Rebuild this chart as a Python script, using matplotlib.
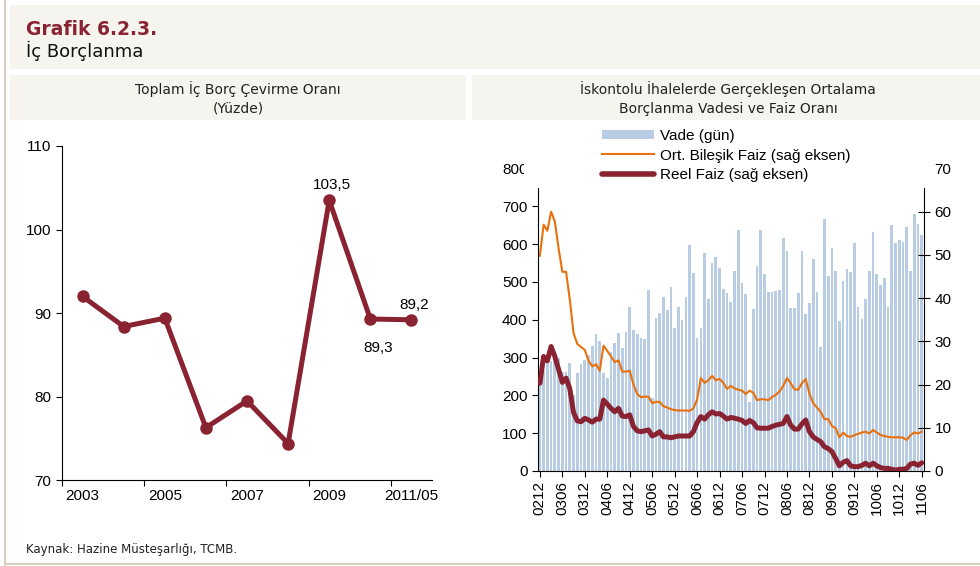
import matplotlib.pyplot as plt
from matplotlib.patches import Rectangle, Patch
from matplotlib.lines import Line2D
import numpy as np

# left chart: total domestic debt rollover ratio (%)
years = ['2003', '2004', '2005', '2006', '2007', '2008', '2009', '2010', '2011/05']
ratio = [92.0, 88.4, 89.4, 76.3, 79.5, 74.4, 103.5, 89.3, 89.2]
ratio_labels = {6: '103,5', 7: '89,3', 8: '89,2'}

# right chart: monthly, 2002/12 .. 2011/06
months = ['0212', '0306', '0312', '0406', '0412', '0506', '0512', '0606', '0612',
          '0706', '0712', '0806', '0812', '0906', '0912', '1006', '1012', '1106']
vade = [250, 265, 300, 290, 300, 298, 262, 262, 285, 200,
        258, 282, 293, 307, 330, 363, 344, 260, 247, 315,
        339, 366, 326, 368, 434, 374, 362, 352, 348, 479,
        194, 404, 417, 459, 426, 486, 377, 434, 399, 461,
        597, 524, 351, 377, 576, 455, 551, 567, 536, 481,
        472, 446, 528, 638, 498, 467, 183, 428, 542, 638,
        521, 474, 474, 477, 479, 616, 582, 430, 430, 470,
        582, 414, 445, 560, 474, 329, 667, 516, 590, 530,
        397, 503, 534, 525, 602, 433, 402, 455, 529, 631,
        520, 493, 510, 433, 651, 602, 611, 606, 645, 529,
        679, 652, 623]
bilesik = [49.8, 57.0, 55.6, 60.0, 57.7, 51.5, 46.1, 46.1, 39.6, 31.9,
           29.4, 28.7, 28.0, 25.5, 24.2, 24.7, 23.2, 29.0, 27.8, 26.5,
           25.2, 25.6, 23.0, 23.0, 23.2, 20.0, 17.8, 17.1, 17.2, 17.2,
           15.7, 16.0, 16.0, 15.0, 14.7, 14.3, 14.1, 14.0, 14.0, 14.0,
           13.9, 14.5, 16.5, 21.5, 20.4, 21.0, 22.0, 21.0, 21.3, 20.4,
           19.0, 19.7, 19.1, 18.8, 18.6, 17.8, 18.6, 18.1, 16.4, 16.6,
           16.6, 16.4, 17.1, 17.6, 18.4, 19.7, 21.5, 20.3, 18.9, 18.8,
           20.3, 21.3, 17.9, 15.7, 14.7, 13.7, 12.0, 12.0, 10.4, 9.9,
           7.8, 8.9, 8.1, 7.9, 8.3, 8.6, 8.9, 9.1, 8.7, 9.5,
           8.9, 8.3, 8.1, 7.9, 7.8, 7.8, 7.8, 7.7, 7.2, 8.3,
           8.9, 8.7, 9.1]
reel = [20.3, 26.5, 25.5, 28.8, 26.5, 23.5, 20.5, 21.5, 19.0, 13.5,
        11.6, 11.4, 12.2, 11.8, 11.3, 12.0, 12.0, 16.4, 15.5, 14.5,
        13.7, 14.5, 12.7, 12.6, 13.0, 10.3, 9.3, 9.1, 9.3, 9.5,
        8.1, 8.5, 9.1, 7.9, 7.9, 7.7, 7.9, 8.1, 8.1, 8.1,
        8.1, 9.1, 11.2, 12.6, 12.0, 13.0, 13.7, 13.2, 13.3, 12.7,
        12.0, 12.4, 12.2, 12.0, 11.7, 11.0, 11.7, 11.2, 10.0, 9.9,
        9.9, 9.9, 10.3, 10.6, 10.8, 11.0, 12.6, 10.6, 9.7, 9.7,
        10.9, 11.8, 9.1, 7.9, 7.3, 6.8, 5.6, 5.2, 4.5, 2.9,
        1.2, 2.0, 2.4, 1.2, 1.0, 1.0, 1.3, 1.8, 1.2, 1.8,
        1.2, 0.8, 0.6, 0.6, 0.4, 0.2, 0.4, 0.4, 0.6, 1.6,
        1.8, 1.3, 1.9]

W, H = 980, 566
RED = '#8a2331'
ORANGE = '#e8700d'
BLUE = '#b8cce4'
PANEL = '#f6f4ef'
BORDER = '#d8cfc0'
TICKFONT = 'Liberation Sans'


def px(x0, y0, x1, y1):
    # pixel box (top-left origin) -> figure fraction [l, b, w, h]
    return [x0 / W, 1 - y1 / H, (x1 - x0) / W, (y1 - y0) / H]


fig = plt.figure(figsize=(W / 100, H / 100), dpi=100)
fig.patch.set_facecolor('white')

# panels and frame
for (x0, y0, x1, y1) in [(10, 5, 980, 69), (10, 75, 466, 120), (472, 75, 980, 120)]:
    l, b, w, h = px(x0, y0, x1, y1)
    fig.patches.append(Rectangle((l, b), w, h, transform=fig.transFigure,
                                 facecolor=PANEL, edgecolor='none', zorder=-5))
fig.add_artist(Line2D([4.5 / W, 4.5 / W], [0, 1], color=BORDER, lw=1.5))
fig.add_artist(Line2D([4.5 / W, 1], [1 - 563.5 / H] * 2, color=BORDER, lw=1.5))

fig.text(26 / W, 1 - 35 / H, 'Grafik 6.2.3.', fontsize=13.5, fontweight='bold',
         color=RED, va='baseline')
fig.text(26 / W, 1 - 57 / H, 'İç Borçlanma', fontsize=13, va='baseline', color='#111111')
fig.text(238 / W, 1 - 94 / H, 'Toplam İç Borç Çevirme Oranı', fontsize=10,
         ha='center', va='baseline', color='#222222')
fig.text(238 / W, 1 - 113 / H, '(Yüzde)', fontsize=10, ha='center',
         va='baseline', color='#222222')
fig.text(728 / W, 1 - 94 / H, 'İskontolu İhalelerde Gerçekleşen Ortalama',
         fontsize=10, ha='center', va='baseline', color='#222222')
fig.text(728 / W, 1 - 113 / H, 'Borçlanma Vadesi ve Faiz Oranı', fontsize=10,
         ha='center', va='baseline', color='#222222')
fig.text(26 / W, 1 - 553 / H, 'Kaynak: Hazine Müsteşarlığı, TCMB.', fontsize=8.5,
         va='baseline', color='#222222')

# ---- left chart
ax1 = fig.add_axes(px(62, 146, 432, 480.3))
x = np.arange(len(years))
ax1.plot(x, ratio, color=RED, lw=3.6, marker='o', ms=8, zorder=3)
for i, txt in ratio_labels.items():
    if i == 7:
        ax1.annotate(txt, (x[i], ratio[i]), xytext=(6, -16), textcoords='offset points',
                     ha='center', va='top', fontsize=11, family=TICKFONT)
    else:
        ax1.annotate(txt, (x[i], ratio[i]), xytext=(2, 6), textcoords='offset points',
                     ha='center', va='bottom', fontsize=11, family=TICKFONT)
ax1.set_xlim(-0.5, len(years) - 0.5)
ax1.set_ylim(70, 110)
ax1.set_yticks(np.arange(70, 111, 10))
ax1.set_xticks(np.arange(-0.5, len(years) - 1, 2), [''] * 5)
ax1.set_xticks(x[::2], [years[i] for i in x[::2]], minor=True)
ax1.tick_params(axis='x', which='minor', length=0, pad=6)
ax1.tick_params(axis='both', which='major', length=4, width=0.8)
for sp in ['top', 'right']:
    ax1.spines[sp].set_visible(False)
for lab in ax1.get_yticklabels() + ax1.get_xticklabels(minor=True):
    lab.set_fontsize(11)
    lab.set_family(TICKFONT)

# ---- right chart
ax2 = fig.add_axes(px(538, 168.5, 924, 471))
n = len(vade)
t = np.arange(n)
ax2.bar(t, vade, width=0.72, color=BLUE, zorder=1)
ax2.set_ylim(0, 800)
ax2.set_yticks(np.arange(0, 801, 100))
ax2.set_xlim(-0.5, n - 0.4)
ax2.set_xticks(t[::6], months, rotation=90)
ax2.spines['top'].set_visible(False)
ax2.spines['right'].set_visible(False)
ax2.tick_params(axis='both', length=4, width=0.8)

ax3 = ax2.twinx()
ax3.plot(t, bilesik, color=ORANGE, lw=1.5, zorder=3)
ax3.plot(t, reel, color=RED, lw=3.6, zorder=4, solid_capstyle='round')
ax3.set_ylim(0, 70)
ax3.set_yticks(np.arange(0, 71, 10))
ax3.spines['top'].set_visible(False)
ax3.spines['left'].set_visible(False)
ax3.spines['bottom'].set_visible(False)
ax3.spines['right'].set_bounds(0, 65.6)
ax3.tick_params(axis='y', direction='inout', length=8, width=0.8)
ax3.yaxis.get_major_ticks()[-1].tick2line.set_visible(False)
for a in (ax2, ax3):
    for lab in a.get_yticklabels() + a.get_xticklabels():
        lab.set_fontsize(11)
        lab.set_family(TICKFONT)

# legend sits on a white box that covers the top of the plot area
l, b, w, h = px(524, 122, 895, 188)
fig.patches.append(Rectangle((l, b), w, h, transform=fig.transFigure,
                             facecolor='white', edgecolor='none', zorder=3))
handles = [Patch(facecolor=BLUE, edgecolor='none'),
           Line2D([], [], color=ORANGE, lw=1.5),
           Line2D([], [], color=RED, lw=4, solid_capstyle='round')]
labels = ['Vade (gün)', 'Ort. Bileşik Faiz (sağ eksen)', 'Reel Faiz (sağ eksen)']
fig.legend(handles, labels, loc='upper left', bbox_to_anchor=(602 / W, 1 - 129 / H),
           frameon=False, borderpad=0, borderaxespad=0, handlelength=3.4,
           handleheight=0.6, handletextpad=0.4, labelspacing=0.36,
           prop={'family': TICKFONT, 'size': 11})

fig.savefig('out.png', dpi=100)
